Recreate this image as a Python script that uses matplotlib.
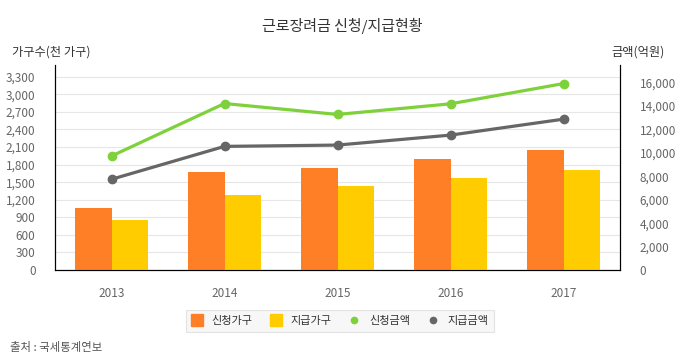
import matplotlib
matplotlib.use("Agg")
import matplotlib.pyplot as plt
from matplotlib.lines import Line2D
import numpy as np

plt.rcParams['font.family'] = ['Noto Sans CJK KR', 'DejaVu Sans']

years = ['2013', '2014', '2015', '2016', '2017']
apply_households = [1055, 1667, 1735, 1888, 2053]
paid_households = [850, 1281, 1440, 1565, 1701]
apply_amount = [9728, 14213, 13277, 14187, 15915]
paid_amount = [7745, 10553, 10664, 11515, 12877]

left_ticks = list(range(0, 3301, 300))
right_ticks = list(range(0, 16001, 2000))

c_orange = '#FF7F27'
c_yellow = '#FFCC00'
c_green = '#7ED13B'
c_gray = '#666666'
c_text = '#666666'

fig = plt.figure(figsize=(6.85, 3.58), dpi=100)
W, H = 685, 358
ax = fig.add_axes([55 / W, 1 - 270 / H, (620 - 55) / W, (270 - 65) / H])
ax2 = ax.twinx()

x = np.arange(len(years))
bw = 0.325
ax.bar(x - bw / 2, apply_households, bw, color=c_orange, zorder=3)
ax.bar(x + bw / 2, paid_households, bw, color=c_yellow, zorder=3)

ax2.plot(x, apply_amount, color=c_green, lw=2.3, marker='o', ms=6, zorder=4)
ax2.plot(x, paid_amount, color=c_gray, lw=2.3, marker='o', ms=6, zorder=4)

ax.set_xlim(-0.5, len(years) - 0.5)
ax.set_ylim(0, 3500)
ax2.set_ylim(0, 17500)
ax.set_yticks(left_ticks)
ax.set_yticklabels([f'{v:,}' for v in left_ticks])
ax2.set_yticks(right_ticks)
ax2.set_yticklabels([f'{v:,}' for v in right_ticks])
ax.set_xticks(x)
ax.set_xticklabels(years)

ax.grid(axis='y', color='#e6e6e6', lw=0.8, zorder=0)
ax.set_axisbelow(True)
for a in (ax, ax2):
    a.spines['top'].set_visible(False)
    a.spines['left'].set_color('black')
    a.spines['right'].set_color('black')
    a.spines['bottom'].set_color('black')
    a.tick_params(length=0, labelsize=8.5, labelcolor=c_text)
ax.tick_params(axis='y', pad=14)
ax.tick_params(axis='x', pad=12)
ax2.tick_params(axis='y', pad=14)
ax2.set_zorder(ax.get_zorder() + 1)
ax2.patch.set_visible(False)

fig.text(0.5, 1 - 26 / H, '근로장려금 신청/지급현황', ha='center', va='center', fontsize=10.8, color='#333333')
fig.text(12 / W, 1 - 52 / H, '가구수(천 가구)', ha='left', va='center', fontsize=8.8, color='#333333')
fig.text(665 / W, 1 - 52 / H, '금액(억원)', ha='right', va='center', fontsize=8.8, color='#333333')
fig.text(10 / W, 1 - 347 / H, '출처 : 국세통계연보', ha='left', va='center', fontsize=8.2, color='#555555')

handles = [
    Line2D([], [], ls='none', marker='s', ms=8, color=c_orange),
    Line2D([], [], ls='none', marker='s', ms=8, color=c_yellow),
    Line2D([], [], ls='none', marker='o', ms=4.5, color=c_green),
    Line2D([], [], ls='none', marker='o', ms=4.5, color=c_gray),
]
labels = ['신청가구', '지급가구', '신청금액', '지급금액']
leg = fig.legend(handles, labels, loc='center', bbox_to_anchor=(340 / W, 1 - 321 / H), ncol=4,
                 fontsize=8, frameon=True, fancybox=False, handlelength=1.0, handletextpad=0.8,
                 columnspacing=1.6, borderpad=0.5)
leg.get_frame().set_facecolor('#f5f5f5')
leg.get_frame().set_edgecolor('#dddddd')
leg.get_frame().set_linewidth(0.8)
for t in leg.get_texts():
    t.set_color('#333333')

fig.savefig('out.png', dpi=100)
